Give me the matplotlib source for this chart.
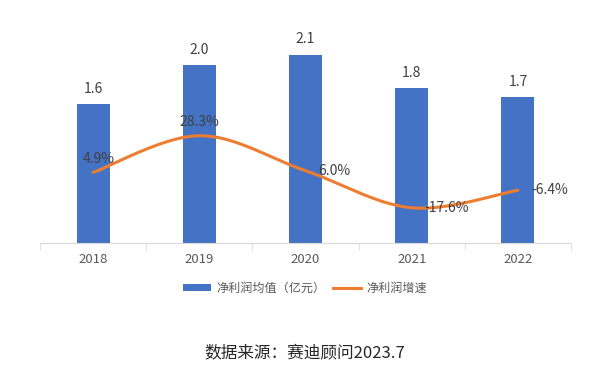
import numpy as np
import matplotlib
matplotlib.use('Agg')
import matplotlib.pyplot as plt
from matplotlib.patches import Patch
from matplotlib.lines import Line2D

plt.rcParams['font.family'] = ['Noto Sans CJK SC', 'DejaVu Sans']

# Datos
years = ['2018', '2019', '2020', '2021', '2022']
profit_avg = [1.58, 2.02, 2.14, 1.76, 1.66]      # 净利润均值（亿元）
growth = [4.9, 28.3, 6.0, -17.6, -6.4]            # 净利润增速 (%)
growth_labels = ['4.9%', '28.3%', '6.0%', '-17.6%', '-6.4%']

bar_color = '#4472C4'
line_color = '#ED7D31'
text_color = '#404040'
axis_color = '#D9D9D9'


def smooth(x, y, n=40):
    # curva tipo Catmull-Rom (como la linea suavizada de Excel)
    x = np.asarray(x, float)
    y = np.asarray(y, float)
    px = np.concatenate([[x[0]], x, [x[-1]]])
    py = np.concatenate([[y[0]], y, [y[-1]]])
    xs, ys = [], []
    t = np.linspace(0, 1, n)
    for i in range(1, len(px) - 2):
        p0 = np.array([px[i], py[i]])
        p3 = np.array([px[i + 1], py[i + 1]])
        c1 = p0 + (np.array([px[i + 1], py[i + 1]]) - np.array([px[i - 1], py[i - 1]])) / 6
        c2 = p3 - (np.array([px[i + 2], py[i + 2]]) - np.array([px[i], py[i]])) / 6
        pts = ((1 - t) ** 3)[:, None] * p0 + (3 * (1 - t) ** 2 * t)[:, None] * c1 \
            + (3 * (1 - t) * t ** 2)[:, None] * c2 + (t ** 3)[:, None] * p3
        xs.extend(pts[:, 0])
        ys.extend(pts[:, 1])
    return np.array(xs), np.array(ys)


fig = plt.figure(figsize=(6, 3.7), dpi=100)
ax = fig.add_axes([0.0667, 0.3432, 0.885, 0.5946])
x = np.arange(len(years))

ax.bar(x, profit_avg, width=0.31, color=bar_color, zorder=2)
for xi, v in zip(x, profit_avg):
    ax.annotate(f'{v:.1f}', (xi, v), xytext=(0, 11), textcoords='offset points',
                ha='center', va='center', fontsize=10, color=text_color)

ax.set_xlim(-0.5, len(years) - 0.5)
ax.set_ylim(0, 2.5)
ax.set_yticks([])
for s in ['left', 'right', 'top']:
    ax.spines[s].set_visible(False)
ax.spines['bottom'].set_color(axis_color)
ax.set_xticks(x)
ax.set_xticklabels(years, fontsize=9.5, color='#595959')
ax.tick_params(axis='x', length=0, pad=7)
ax.set_xticks(np.arange(-0.5, len(years)), minor=True)
ax.tick_params(axis='x', which='minor', length=5, color=axis_color)

ax2 = ax.twinx()
ax2.set_ylim(-40, 100)
ax2.set_yticks([])
for s in ['left', 'right', 'top', 'bottom']:
    ax2.spines[s].set_visible(False)

sx, sy = smooth(x, growth)
ax2.plot(sx, sy, color=line_color, lw=2.2, solid_capstyle='round', zorder=3)

# etiquetas de la linea
offsets = [(4, 10, 'center'), (0, 10, 'center'), (9, 0, 'left'), (9, 0, 'left'), (10, 0, 'left')]
for xi, v, lab, (dx, dy, ha) in zip(x, growth, growth_labels, offsets):
    ax2.annotate(lab, (xi, v), xytext=(dx, dy), textcoords='offset points',
                 ha=ha, va='center', fontsize=10, color=text_color)

handles = [Patch(facecolor=bar_color, label='净利润均值（亿元）'),
           Line2D([0], [0], color=line_color, lw=2.2, label='净利润增速')]
leg = fig.legend(handles=handles, loc='center', bbox_to_anchor=(305 / 600, 1 - 288 / 370),
                 ncol=2, frameon=False, fontsize=8.7, handlelength=2.3,
                 handleheight=0.55, handletextpad=0.4, columnspacing=0.7)
for t in leg.get_texts():
    t.set_color('#595959')

fig.text(305 / 600, 1 - 353 / 370, '数据来源：赛迪顾问2023.7', ha='center', va='center',
         fontsize=12, color='#262626')

fig.savefig('out.png', dpi=100)
